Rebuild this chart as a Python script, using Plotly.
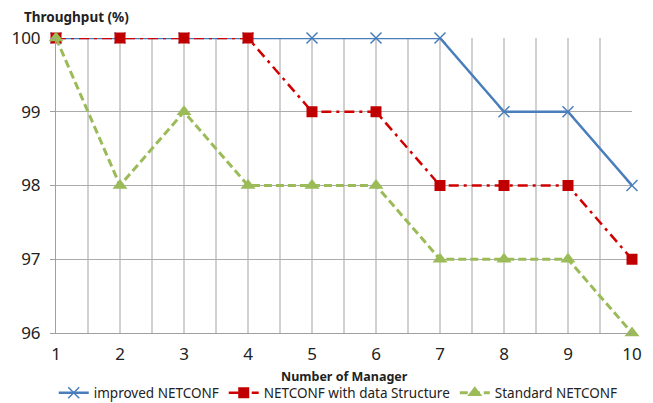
import plotly.graph_objects as go

managers = [1, 2, 3, 4, 5, 6, 7, 8, 9, 10]
improved = [100, 100, 100, 100, 100, 100, 100, 99, 99, 98]
with_ds = [100, 100, 100, 100, 99, 99, 98, 98, 98, 97]
standard = [100, 98, 99, 98, 98, 98, 97, 97, 97, 96]
yticks = [96, 97, 98, 99, 100]

font = "Noto Sans"
fig = go.Figure()
fig.add_trace(go.Scatter(x=managers, y=improved, name="improved NETCONF", mode="lines+markers",
                         cliponaxis=False,
                         line=dict(color="#4A7EBB", width=2.5),
                         marker=dict(symbol="x-thin-open", size=11, line=dict(color="#4A7EBB", width=1.5), color="#4A7EBB")))
fig.add_trace(go.Scatter(x=managers, y=with_ds, name="NETCONF with data Structure", mode="lines+markers",
                         cliponaxis=False,
                         line=dict(color="#D00000", width=2.5, dash="10px,5px,3px,5px"),
                         marker=dict(symbol="square", size=11, color="#C00000")))
fig.add_trace(go.Scatter(x=managers, y=standard, name="Standard NETCONF", mode="lines+markers",
                         cliponaxis=False,
                         line=dict(color="#9BBB59", width=3, dash="8px,4px"),
                         marker=dict(symbol="triangle-up", size=13, color="#9BBB59")))

fig.update_layout(
    width=645, height=395,
    margin=dict(l=48, r=21, t=30, b=70, autoexpand=False),
    plot_bgcolor="white", paper_bgcolor="white",
    font=dict(family=font, color="#222"),
    showlegend=True,
    legend=dict(orientation="h", x=0.49, xanchor="center", y=-0.203, yanchor="middle",
                font=dict(size=13.5, family=font), tracegroupgap=0, itemwidth=30),
    annotations=[
        dict(text="<b>Throughput (%)</b>", x=-34/576, y=1 + 21/295, xref="paper", yref="paper",
             showarrow=False, font=dict(size=13.5, family=font), xanchor="left", yanchor="middle"),
        dict(text="<b>Number of Manager</b>", x=0.5, y=-0.149, xref="paper", yref="paper",
             showarrow=False, font=dict(size=12.5, family=font), xanchor="center", yanchor="middle"),
    ],
)
fig.update_xaxes(range=[1, 10], tickvals=managers, showgrid=True, gridcolor="#D0D0D0", gridwidth=1.5,
                 minor=dict(dtick=0.5, tick0=1, showgrid=True, gridcolor="#D0D0D0", gridwidth=1.5),
                 showline=True, linecolor="#A0A0A0", linewidth=1, ticks="",
                 ticklabelstandoff=6,
                 tickfont=dict(size=17, family=font), zeroline=False, automargin=False)
fig.update_yaxes(range=[96, 100], tickvals=yticks, showgrid=True, gridcolor="#ABABAB", gridwidth=1,
                 showline=True, linecolor="#A0A0A0", linewidth=1, ticks="outside", ticklen=5, tickcolor="#A0A0A0",
                 ticklabelstandoff=6,
                 tickfont=dict(size=17, family=font), zeroline=False, automargin=False)
fig.write_html("out.html")
